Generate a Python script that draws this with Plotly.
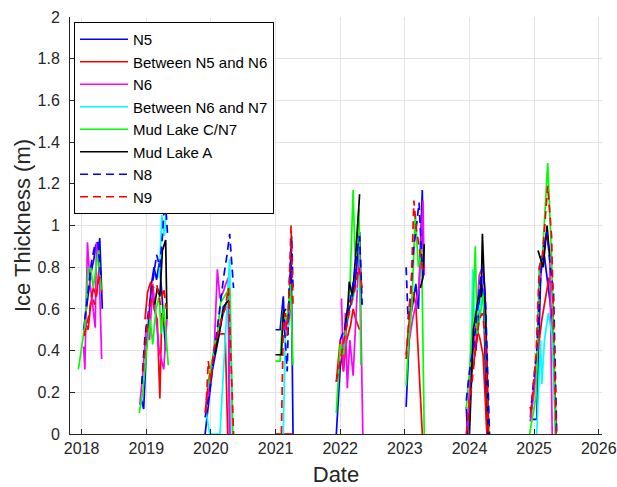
import plotly.graph_objects as go

# ---- Data: decimal-year dates and ice thickness (m), one list per season ----
n5_x = [[2018.03, 2018.07, 2018.11, 2018.15, 2018.19, 2018.22, 2018.25, 2018.28, 2018.32],
        [2018.92, 2018.96, 2019.0, 2019.04, 2019.08, 2019.12, 2019.16, 2019.2, 2019.24, 2019.3],
        [2019.91, 2019.96, 2020.02, 2020.08, 2020.13, 2020.19, 2020.24, 2020.27, 2020.29],
        [2021.0, 2021.07, 2021.12, 2021.14, 2021.18, 2021.21, 2021.24, 2021.27],
        [2021.94, 2022.0, 2022.05, 2022.09, 2022.14, 2022.19, 2022.23, 2022.27, 2022.3, 2022.33],
        [2023.02, 2023.05, 2023.08, 2023.12, 2023.17, 2023.21, 2023.27, 2023.29],
        [2023.95, 2023.97, 2024.02, 2024.06, 2024.1, 2024.14, 2024.18, 2024.22, 2024.27],
        [2024.94, 2024.97, 2025.04, 2025.08, 2025.11, 2025.16, 2025.22, 2025.28, 2025.34]]
n5_y = [[0.5, 0.6, 0.7, 0.78, 0.84, 0.91, 0.86, 0.94, 0.6],
        [0.17, 0.12, 0.4, 0.55, 0.72, 0.8, 0.74, 0.82, 0.68, 0.4],
        [0.0, 0.15, 0.3, 0.4, 0.48, 0.61, 0.63, 0.64, 0.0],
        [0.5, 0.5, 0.66, 0.5, 0.56, 0.6, 0.9, 0.0],
        [0.0, 0.32, 0.42, 0.5, 0.6, 0.65, 0.72, 0.85, 0.97, 0.62],
        [0.13, 0.35, 0.55, 0.62, 0.72, 0.6, 1.17, 0.8],
        [0.13, 0.0, 0.3, 0.45, 0.4, 0.6, 0.75, 0.62, 0.0],
        [0.13, 0.07, 0.07, 0.5, 0.85, 0.85, 0.7, 0.55, 0.0]]

n5n6_x = [[2018.03, 2018.06, 2018.1, 2018.14, 2018.18, 2018.23, 2018.27, 2018.31],
          [2018.98, 2019.02, 2019.07, 2019.12, 2019.17, 2019.21, 2019.24, 2019.28],
          [2019.91, 2019.96, 2020.01, 2020.06, 2020.12, 2020.22, 2020.26],
          [2021.0, 2021.26],
          [2021.94, 2022.0, 2022.05, 2022.1, 2022.16, 2022.2, 2022.24, 2022.28, 2022.3],
          [2023.02, 2023.05, 2023.09, 2023.13, 2023.17, 2023.27],
          [2023.97, 2024.02, 2024.07, 2024.12, 2024.16, 2024.21, 2024.27],
          [2024.94, 2025.03, 2025.08, 2025.12, 2025.18, 2025.23, 2025.28, 2025.34]]
n5n6_y = [[0.48, 0.53, 0.5, 0.62, 0.7, 0.66, 0.8, 0.68],
          [0.55, 0.68, 0.73, 0.6, 0.55, 0.17, 0.58, 0.52],
          [0.1, 0.25, 0.33, 0.4, 0.48, 0.48, 0.0],
          [0.0, 0.0],
          [0.25, 0.45, 0.3, 0.45, 0.52, 0.6, 0.55, 0.52, 0.5],
          [0.38, 0.5, 0.62, 0.68, 0.62, 0.0],
          [0.05, 0.28, 0.35, 0.5, 0.46, 0.38, 0.0],
          [0.08, 0.3, 0.45, 0.55, 0.65, 0.75, 0.68, 0.0]]

n6_x = [[2018.03, 2018.05, 2018.09, 2018.13, 2018.17, 2018.21, 2018.23, 2018.27, 2018.31],
        [2018.9, 2018.95, 2019.0, 2019.05, 2019.1, 2019.15, 2019.2, 2019.27, 2019.32],
        [2019.95, 2020.0, 2020.05, 2020.1, 2020.14, 2020.19, 2020.23, 2020.27, 2020.29],
        [2021.14, 2021.17, 2021.2, 2021.23],
        [2022.02, 2022.05, 2022.08, 2022.11, 2022.15, 2022.2, 2022.25, 2022.3, 2022.35],
        [2023.07, 2023.12, 2023.17, 2023.22, 2023.28, 2023.3],
        [2023.97, 2024.02, 2024.07, 2024.11, 2024.15, 2024.2, 2024.24, 2024.3],
        [2024.94, 2025.0, 2025.05, 2025.08, 2025.12, 2025.19, 2025.24, 2025.28]]
n6_y = [[0.42, 0.31, 0.92, 0.72, 0.62, 0.51, 0.92, 0.8, 0.36],
        [0.14, 0.3, 0.52, 0.45, 0.72, 0.55, 0.4, 0.31, 0.55],
        [0.15, 0.3, 0.4, 0.79, 0.65, 0.68, 0.72, 0.75, 0.0],
        [0.5, 0.55, 0.52, 0.6],
        [0.65, 0.3, 0.58, 0.22, 0.45, 0.28, 0.6, 0.92, 0.0],
        [0.45, 0.55, 0.62, 0.7, 1.12, 0.76],
        [0.02, 0.3, 0.45, 0.55, 0.76, 0.8, 0.7, 0.0],
        [0.06, 0.2, 0.4, 0.72, 0.82, 0.96, 0.88, 0.0]]

n6n7_x = [[2019.2, 2019.24, 2019.28, 2019.31],
          [2019.92, 2019.98, 2020.14, 2020.29, 2020.33],
          [2021.07, 2021.12, 2021.15, 2021.19, 2021.22],
          [2022.18, 2022.22, 2022.27],
          [2024.02, 2024.05, 2024.08, 2024.13, 2024.2, 2024.25],
          [2025.04, 2025.07, 2025.1, 2025.12, 2025.16, 2025.22, 2025.28, 2025.33]]
n6n7_y = [[0.75, 1.05, 0.95, 1.08],
          [0.12, 0.0, 0.0, 0.84, 0.0],
          [0.0, 0.0, 0.46, 0.52, 0.55],
          [0.62, 0.68, 0.7],
          [0.35, 0.79, 0.52, 0.58, 0.66, 0.55],
          [0.0, 0.25, 0.45, 0.24, 0.45, 0.58, 0.47, 0.0]]

mudc_x = [[2017.95, 2018.05, 2018.1, 2018.14, 2018.18, 2018.22, 2018.26, 2018.3],
          [2018.89, 2018.95, 2019.01, 2019.06, 2019.1, 2019.15, 2019.2, 2019.23, 2019.27, 2019.34],
          [2019.95, 2020.02, 2020.07, 2020.1, 2020.15, 2020.21, 2020.29, 2020.34],
          [2021.0, 2021.07, 2021.11, 2021.16, 2021.2, 2021.23, 2021.27],
          [2021.94, 2022.0, 2022.05, 2022.1, 2022.15, 2022.2, 2022.23, 2022.29, 2022.32],
          [2023.02, 2023.06, 2023.11, 2023.16, 2023.21, 2023.26, 2023.3],
          [2023.95, 2024.0, 2024.05, 2024.09, 2024.12, 2024.17, 2024.22, 2024.3],
          [2024.93, 2025.03, 2025.08, 2025.13, 2025.21, 2025.27, 2025.33]]
mudc_y = [[0.31, 0.52, 0.79, 0.8, 0.7, 0.78, 0.88, 0.69],
          [0.1, 0.21, 0.42, 0.55, 0.43, 0.6, 0.66, 0.48, 0.62, 0.33],
          [0.22, 0.35, 0.45, 0.48, 0.63, 0.66, 0.7, 0.0],
          [0.35, 0.35, 0.57, 0.55, 0.6, 0.72, 0.33],
          [0.1, 0.43, 0.38, 0.56, 0.7, 1.17, 0.85, 1.08, 0.33],
          [0.23, 0.45, 0.62, 1.05, 0.8, 0.88, 0.0],
          [0.12, 0.3, 0.55, 0.9, 0.48, 0.58, 0.68, 0.0],
          [0.0, 0.18, 0.8, 0.86, 1.3, 0.85, 0.0]]

muda_x = [[2019.13, 2019.17, 2019.21, 2019.25, 2019.3, 2019.32],
          [2020.06, 2020.1, 2020.15, 2020.2, 2020.24, 2020.28],
          [2021.0, 2021.09, 2021.12, 2021.16],
          [2022.07, 2022.12, 2022.14, 2022.19, 2022.25, 2022.3],
          [2023.24, 2023.28, 2023.3],
          [2024.0, 2024.06, 2024.1, 2024.14, 2024.18, 2024.2, 2024.25, 2024.29],
          [2025.06, 2025.09, 2025.14, 2025.2, 2025.24]]
muda_y = [[0.62, 0.7, 0.66, 0.88, 0.93, 0.55],
          [0.38, 0.45, 0.52, 0.6, 0.63, 0.64],
          [0.38, 0.38, 0.58, 0.6],
          [0.5, 0.62, 0.73, 0.66, 0.9, 1.15],
          [0.7, 0.75, 0.91],
          [0.0, 0.5, 0.58, 0.66, 0.66, 0.96, 0.55, 0.0],
          [0.88, 0.85, 0.8, 1.0, 0.85]]

n8_x = [[2018.05, 2018.1, 2018.15, 2018.2, 2018.25, 2018.3],
        [2018.93, 2018.98, 2019.04, 2019.1, 2019.16, 2019.21, 2019.25, 2019.29, 2019.33],
        [2019.91, 2019.98, 2020.04, 2020.1, 2020.15, 2020.2, 2020.25, 2020.29, 2020.35],
        [2021.14, 2021.18, 2021.21, 2021.25, 2021.27],
        [2022.0, 2022.06, 2022.11, 2022.17, 2022.22, 2022.27, 2022.3, 2022.34],
        [2023.02, 2023.05, 2023.09, 2023.14, 2023.18, 2023.22, 2023.26, 2023.29],
        [2023.95, 2024.0, 2024.06, 2024.12, 2024.16, 2024.2, 2024.25, 2024.31],
        [2024.96, 2025.04, 2025.1, 2025.15, 2025.2, 2025.25, 2025.3, 2025.35]]
n8_y = [[0.55, 0.68, 0.82, 0.9, 0.92, 0.75],
        [0.24, 0.47, 0.6, 0.72, 0.86, 0.8, 0.95, 1.15, 0.95],
        [0.08, 0.2, 0.36, 0.52, 0.65, 0.76, 0.86, 0.96, 0.7],
        [0.5, 0.3, 0.7, 0.95, 0.7],
        [0.45, 0.5, 0.56, 0.66, 0.76, 0.9, 0.95, 0.62],
        [0.8, 0.55, 0.68, 0.9, 1.0, 1.11, 0.85, 0.75],
        [0.16, 0.3, 0.42, 0.58, 0.72, 0.8, 0.62, 0.0],
        [0.15, 0.4, 0.75, 0.9, 0.97, 0.8, 0.68, 0.0]]

n9_x = [[2018.04, 2018.08, 2018.12, 2018.16, 2018.2, 2018.25, 2018.29],
        [2018.95, 2019.0, 2019.05, 2019.1, 2019.16, 2019.22, 2019.27, 2019.31],
        [2019.92, 2019.96, 2020.0, 2020.04, 2020.1, 2020.16, 2020.22, 2020.27, 2020.3, 2020.35],
        [2021.09, 2021.12, 2021.15, 2021.18, 2021.21, 2021.24, 2021.27],
        [2021.94, 2022.0, 2022.08, 2022.15, 2022.23, 2022.29, 2022.34],
        [2023.02, 2023.06, 2023.1, 2023.14, 2023.18, 2023.22, 2023.28],
        [2023.95, 2024.0, 2024.05, 2024.1, 2024.15, 2024.2, 2024.25, 2024.29],
        [2024.95, 2025.03, 2025.08, 2025.13, 2025.21, 2025.27, 2025.34]]
n9_y = [[0.47, 0.52, 0.58, 0.68, 0.62, 0.72, 0.76],
        [0.3, 0.48, 0.6, 0.7, 0.72, 0.62, 0.7, 0.6],
        [0.1, 0.35, 0.25, 0.4, 0.47, 0.55, 0.6, 0.7, 0.45, 0.0],
        [0.0, 0.52, 0.58, 0.47, 0.7, 1.0, 0.62],
        [0.25, 0.35, 0.48, 0.6, 0.7, 0.8, 0.7],
        [0.36, 0.55, 0.72, 1.12, 0.98, 0.9, 0.78],
        [0.0, 0.15, 0.3, 0.42, 0.55, 0.58, 0.45, 0.0],
        [0.1, 0.38, 0.8, 0.86, 1.19, 0.95, 0.0]]

names = ["N5", "Between N5 and N6", "N6", "Between N6 and N7",
         "Mud Lake C/N7", "Mud Lake A", "N8", "N9"]
colors = ["#0000FF", "#FF0000", "#FF00FF", "#00FFFF",
          "#00FF00", "#000000", "#0000FF", "#FF0000"]
dashes = ["solid", "solid", "solid", "solid", "solid", "solid", "8px,5px", "8px,5px"]
series_x = [n5_x, n5n6_x, n6_x, n6n7_x, mudc_x, muda_x, n8_x, n9_x]
series_y = [n5_y, n5n6_y, n6_y, n6n7_y, mudc_y, muda_y, n8_y, n9_y]

year_ticks = [2018, 2019, 2020, 2021, 2022, 2023, 2024, 2025, 2026]
thick_ticks = [0, 0.2, 0.4, 0.6, 0.8, 1, 1.2, 1.4, 1.6, 1.8, 2]


def flatten(seasons):
    out = []
    for i, s in enumerate(seasons):
        if i:
            out.append(None)
        out.extend(s)
    return out


fig = go.Figure()
for nm, col, dsh, sx, sy in zip(names, colors, dashes, series_x, series_y):
    fig.add_trace(go.Scatter(
        x=flatten(sx), y=flatten(sy), mode="lines", name=nm,
        connectgaps=False,
        line=dict(color=col, width=1.7, dash=dsh),
    ))

axis_col = "#262626"
fig.update_layout(
    width=617, height=487,
    margin=dict(l=70, r=15, t=17, b=53),
    paper_bgcolor="white", plot_bgcolor="white",
    font=dict(family="Liberation Sans, Arial, sans-serif", size=16, color=axis_col),
    legend=dict(
        x=0.0075, y=0.988, xanchor="left", yanchor="top",
        bgcolor="white", bordercolor="#000000", borderwidth=1,
        font=dict(size=15, color="#000000"),
        itemwidth=48, tracegroupgap=0,
    ),
    xaxis=dict(
        range=[2017.82, 2026.05], tickmode="array", tickvals=year_ticks,
        ticktext=[str(t) for t in year_ticks],
        showgrid=True, gridcolor="#e3e3e3", gridwidth=1,
        showline=True, linecolor=axis_col, linewidth=1,
        ticks="inside", ticklen=5, tickcolor=axis_col,
        zeroline=False, mirror=False, automargin=False,
        ticklabeloverflow="allow",
        title=dict(text="Date", font=dict(size=22, color=axis_col), standoff=17),
    ),
    yaxis=dict(
        range=[0, 2], tickmode="array", tickvals=thick_ticks,
        showgrid=True, gridcolor="#e3e3e3", gridwidth=1,
        showline=True, linecolor=axis_col, linewidth=1,
        ticks="inside", ticklen=5, tickcolor=axis_col,
        zeroline=False, mirror=False, ticklabelstandoff=6, automargin=False,
        title=dict(text="Ice Thickness (m)", font=dict(size=22, color=axis_col), standoff=0),
    ),
    showlegend=True,
)

# remove the default page margin so the figure fills the window exactly
fig.write_html(
    "out.html",
    config={"displayModeBar": False},
    post_script="document.body.style.margin='0';document.body.style.overflow='hidden';",
)
